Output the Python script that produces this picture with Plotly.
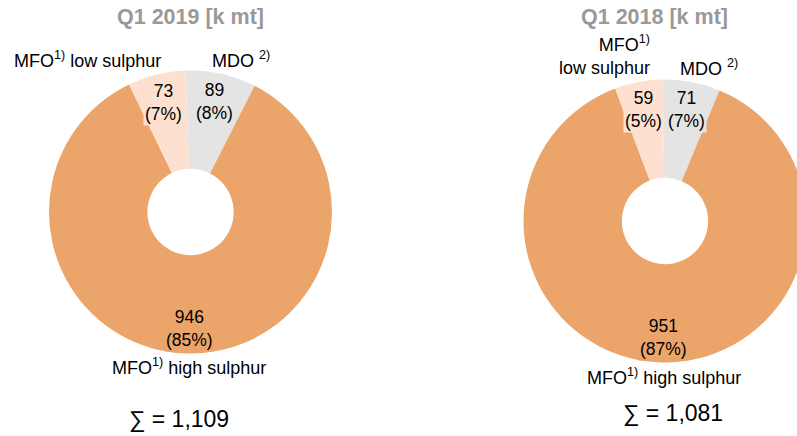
import math
import plotly.graph_objects as go

# ---- data ----
categories = ["MDO", "MFO high sulphur", "MFO low sulphur"]
values_2019 = [89, 946, 73]
values_2018 = [71, 951, 59]
pct_2019 = ["8%", "85%", "7%"]
pct_2018 = ["7%", "87%", "5%"]
total_2019 = "1,109"
total_2018 = "1,081"
titles = ["Q1 2019 [k mt]", "Q1 2018 [k mt]"]

# ---- style ----
colors = ["#E4E4E4", "#EBA46A", "#FDE0D0"]
W, H = 810, 436
FONT = "Arial, 'Liberation Sans', sans-serif"

fig = go.Figure()

def px_domain(cx, cy, r):
    return dict(x=[(cx - r) / W, (cx + r) / W],
                y=[(H - cy - r) / H, (H - cy + r) / H])

pies = [
    dict(vals=values_2019, pct=pct_2019, cx=190.5, cy=212, r=141.5, rot=-2),
    dict(vals=values_2018, pct=pct_2018, cx=665, cy=221, r=141.5, rot=-1),
]

annotations = []

def ann(text, x, y, size=18, color="#000000", bold=False, bg=None, xanchor="center", align="center"):
    a = dict(text=("<b>%s</b>" % text) if bold else text,
             x=x / W, y=1 - y / H, xref="paper", yref="paper",
             xanchor=xanchor, yanchor="middle", align=align, showarrow=False,
             font=dict(family=FONT, size=size, color=color), borderpad=1)
    if bg:
        a["bgcolor"] = bg
    annotations.append(a)

for p in pies:
    fig.add_trace(go.Pie(
        labels=categories, values=p["vals"], sort=False, direction="clockwise",
        rotation=p["rot"], hole=0.305, textinfo="none", hoverinfo="skip",
        marker=dict(colors=colors, line=dict(width=0)),
        domain=px_domain(p["cx"], p["cy"], p["r"]), showlegend=False))
    tot = sum(p["vals"])
    cum = 0
    for i, v in enumerate(p["vals"]):
        mid = p["rot"] + (cum + v / 2) / tot * 360
        cum += v
        rr = 0.8 * p["r"]
        x = p["cx"] + rr * math.sin(math.radians(mid))
        y = p["cy"] - rr * math.cos(math.radians(mid)) + (3 if i == 1 else 0)
        ann("%d<br>(%s)" % (v, p["pct"][i]), x, y, size=17.5, bg=colors[i])

# titles
ann(titles[0], 190, 17, size=21.5, color="#999999", bold=True)
ann(titles[1], 654, 17, size=21.5, color="#999999", bold=True)

# category labels, left
ann("MFO<sup>1)</sup> low sulphur", 87, 59)
ann("MDO <sup>2)</sup>", 241, 59)
ann("MFO<sup>1)</sup> high sulphur", 189, 366)
ann("\u2211 = " + total_2019, 179, 419, size=23)

# category labels, right
ann("MFO<sup>1)</sup><br>low sulphur", 652, 55, xanchor="right", align="right")
ann("MDO <sup>2)</sup>", 709, 67)
ann("MFO<sup>1)</sup> high sulphur", 664, 376)
ann("\u2211 = " + total_2018, 673, 413, size=23)

fig.update_layout(width=W, height=H, margin=dict(l=0, r=0, t=0, b=0),
                  paper_bgcolor="white", plot_bgcolor="white",
                  annotations=annotations, font=dict(family=FONT))

fig.write_html("out.html", config={"displayModeBar": False}, post_script=(
    "document.documentElement.style.overflow='hidden';"
    "document.body.style.overflow='hidden';document.body.style.margin='0';"))
